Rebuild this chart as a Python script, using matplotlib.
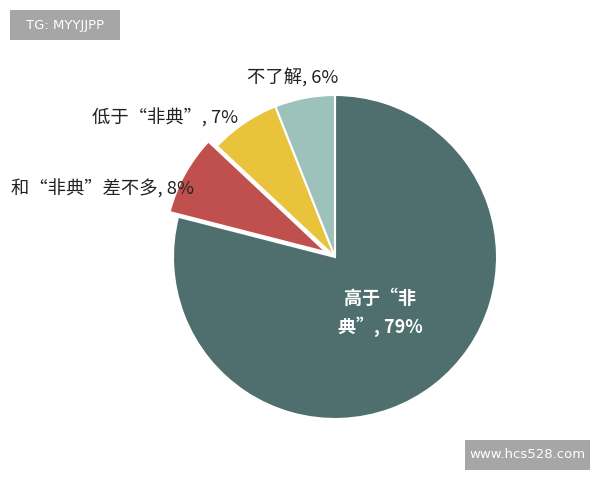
import matplotlib
matplotlib.use("Agg")
import matplotlib.pyplot as plt
from matplotlib.patches import Rectangle

plt.rcParams['font.family'] = ['Noto Sans CJK SC', 'DejaVu Sans']

labels = ['高于“非\n典”, 79%', '和“非典”差不多, 8%', '低于“非典”, 7%', '不了解, 6%']
values = [79, 8, 7, 6]
colors = ['#4e6f6e', '#c0504d', '#e9c33b', '#9cc2bb']
explode = [0, 0.06, 0, 0]

fig = plt.figure(figsize=(6, 4.8), dpi=100)
ax = fig.add_axes([140.6 / 600, 28.6 / 480, 388.8 / 600, 388.8 / 480])
wedges, _ = ax.pie(values, colors=colors, explode=explode, startangle=90,
                   counterclock=False, radius=1.0,
                   wedgeprops=dict(edgecolor='white', linewidth=1.5))
ax.set_xlim(-1.2, 1.2)
ax.set_ylim(-1.2, 1.2)
ax.axis('off')

# label placement (data coords, radius = 1)
ax.text(0.28, -0.345, labels[0], ha='center', va='center', color='white',
        fontsize=13, fontweight='bold', linespacing=1.55)
ax.text(-0.87, 0.42, labels[1], ha='right', va='center', color='#222222', fontsize=13.2)
ax.text(-0.60, 0.855, labels[2], ha='right', va='center', color='#222222', fontsize=13.2)
ax.text(0.02, 1.105, labels[3], ha='right', va='center', color='#222222', fontsize=13.2)

# corner tags
def tag(x0, y0, x1, y1, s):
    fig.patches.append(Rectangle((x0 / 600, 1 - y1 / 480), (x1 - x0) / 600, (y1 - y0) / 480,
                                 transform=fig.transFigure, facecolor='#a6a6a6',
                                 edgecolor='none'))
    fig.text((x0 + x1) / 2 / 600, 1 - (y0 + y1) / 2 / 480, s, ha='center', va='center',
             color='white', fontsize=9.5, family='DejaVu Sans')

tag(10, 10, 120, 40, 'TG: MYYJJPP')
tag(465, 440, 590, 470, 'www.hcs528.com')

fig.savefig('out.png', dpi=100)
